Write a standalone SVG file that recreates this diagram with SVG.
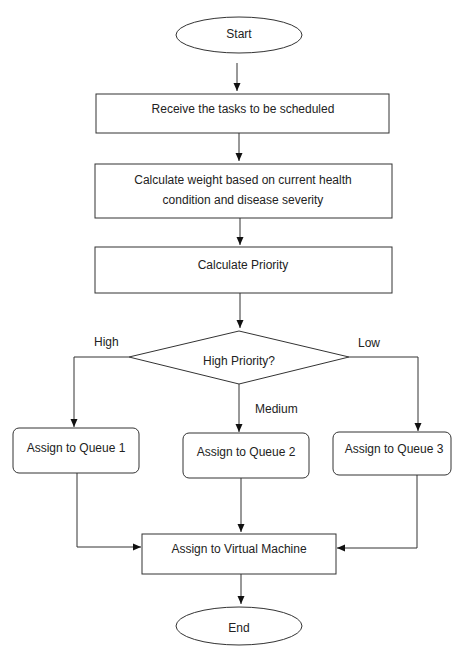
<svg xmlns="http://www.w3.org/2000/svg" width="454" height="648" viewBox="0 0 454 648">
<style>
.s{fill:#fff;stroke:#333;stroke-width:1}
.t{font-family:"Liberation Sans",Arial,sans-serif;font-size:12px;fill:#222;text-anchor:middle;dominant-baseline:central}
.c{fill:none;stroke:#333;stroke-width:1;marker-end:url(#ah)}
.l{font-family:"Liberation Sans",Arial,sans-serif;font-size:12px;fill:#222}
</style>
<defs>
<marker id="ah" markerWidth="9" markerHeight="9" refX="8" refY="4" orient="auto" markerUnits="userSpaceOnUse">
<path d="M0,0.5 L8,4 L0,7.5 Z" fill="#111"/>
</marker>
</defs>
<rect width="454" height="648" fill="#fff"/>
<g id="connectors">
<path class="c" d="M237,63 V91"/>
<path class="c" d="M239,133 V161"/>
<path class="c" d="M240,218 V245"/>
<path class="c" d="M240,293 V328"/>
<path class="c" d="M129,357 H74 V427"/>
<path class="c" d="M239,384 V432"/>
<path class="c" d="M349,357 H418 V431"/>
<path class="c" d="M77,473 V547 H141"/>
<path class="c" d="M241,478 V532"/>
<path class="c" d="M417,475 V548 H337"/>
<path class="c" d="M241,574 V604"/>
<text class="l" x="94" y="346">High</text>
<text class="l" x="358" y="347">Low</text>
<text class="l" x="255" y="413">Medium</text>
</g>
<g id="start">
<ellipse class="s" cx="239" cy="35" rx="63" ry="18"/>
<text class="t" x="239" y="34">Start</text>
</g>
<g id="receive">
<rect class="s" x="96" y="94" width="293" height="39"/>
<text class="t" x="243" y="109">Receive the tasks to be scheduled</text>
</g>
<g id="weight">
<rect class="s" x="95" y="164" width="297" height="54"/>
<text class="t" x="243" y="180">Calculate weight based on current health</text>
<text class="t" x="243" y="200">condition and disease severity</text>
</g>
<g id="priority">
<rect class="s" x="95" y="247" width="297" height="46"/>
<text class="t" x="243" y="265">Calculate Priority</text>
</g>
<g id="decision">
<polygon class="s" points="239,331 349,357 239,384 129,357"/>
<text class="t" x="239" y="361">High Priority?</text>
</g>
<g id="queue1">
<rect class="s" x="13" y="428" width="126" height="45" rx="6"/>
<text class="t" x="76" y="448">Assign to Queue 1</text>
</g>
<g id="queue2">
<rect class="s" x="183" y="433" width="126" height="45" rx="6"/>
<text class="t" x="246" y="452">Assign to Queue 2</text>
</g>
<g id="queue3">
<rect class="s" x="333" y="432" width="118" height="43" rx="6"/>
<text class="t" x="394" y="449">Assign to Queue 3</text>
</g>
<g id="vm">
<rect class="s" x="142" y="534" width="194" height="40"/>
<text class="t" x="239" y="549">Assign to Virtual Machine</text>
</g>
<g id="end">
<ellipse class="s" cx="239" cy="626" rx="63" ry="19"/>
<text class="t" x="239" y="628">End</text>
</g>
</svg>
